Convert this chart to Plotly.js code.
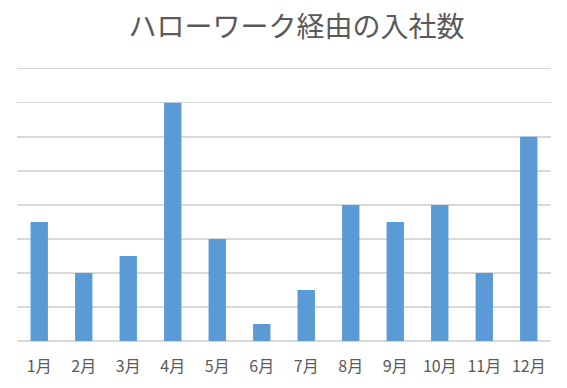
<!DOCTYPE html>
<html><head><meta charset="utf-8">
<script src="https://cdn.plot.ly/plotly-3.0.1.min.js"></script>
<style>html,body{margin:0;padding:0;background:#fff}</style>
</head><body><div id="chart" style="width:567px;height:388px"></div>
<script>
const months = ["1月","2月","3月","4月","5月","6月","7月","8月","9月","10月","11月","12月"];
const hires = [3.5, 2, 2.5, 7, 3, 0.5, 1.5, 4, 3.5, 4, 2, 6];
const chartTitle = "ハローワーク経由の入社数";

Plotly.newPlot("chart", [{
  type: "bar",
  x: months,
  y: hires,
  width: 0.39,
  marker: {color: "#5b9bd5"},
  hoverinfo: "x+y"
}], {
  width: 567, height: 388,
  margin: {l: 17, r: 16, t: 62, b: 47},
  paper_bgcolor: "#fff", plot_bgcolor: "#fff",
  font: {family: "'Noto Sans CJK JP', 'Noto Sans', sans-serif", color: "#595959"},
  title: {text: chartTitle, x: 0.523, xanchor: "center", y: 0.93, yanchor: "middle",
          font: {size: 28, color: "#595959", family: "'Noto Sans CJK JP', sans-serif"}},
  xaxis: {showgrid: false, showline: false, ticks: "", tickfont: {size: 16, color: "#595959"}, ticklabelstandoff: 14},
  yaxis: {range: [0, 8.2], tickvals: [0,1,2,3,4,5,6,7,8], showgrid: true, gridcolor: "#d9d9d9", gridwidth: 1.3,
          zeroline: true, zerolinecolor: "#d9d9d9", zerolinewidth: 1.3, showticklabels: false, fixedrange: true},
  bargap: 0.6,
  showlegend: false
}, {displayModeBar: false, staticPlot: true});
</script></body></html>
